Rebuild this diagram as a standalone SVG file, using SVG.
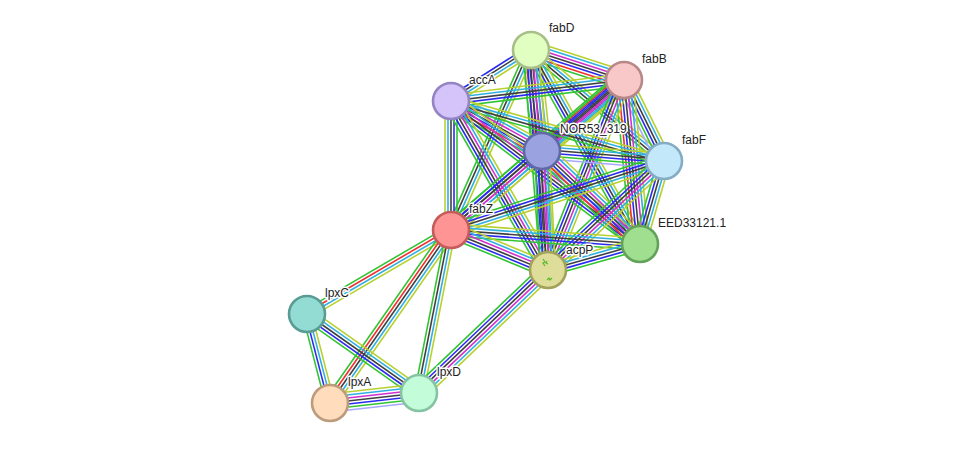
<svg xmlns="http://www.w3.org/2000/svg" width="975" height="449" viewBox="0 0 975 449">
<style>
.e path{fill:none;stroke-width:1.6}
.g{stroke:#33c433}.r{stroke:#f03030}.b{stroke:#2b2bf0}.k{stroke:#404040}.m{stroke:#d030d0}.c{stroke:#30b0e0}.y{stroke:#b8d030}.l{stroke:#a8a8ff}
.n circle{stroke-width:2.6}
.n text{font-family:"Liberation Sans",Arial,sans-serif;font-size:12px;fill:#222;stroke:#fff;stroke-width:3;stroke-linejoin:round;paint-order:stroke}
</style>
<rect width="975" height="449" fill="#fff"/>
<g id="connectors" class="e">
<g transform="translate(531 50) rotate(17.88)"><path class="y" d="M0-9H97.7"/><path class="c" d="M0-6H97.7"/><path class="m" d="M0-3H97.7"/><path class="k" d="M0 0H97.7"/><path class="b" d="M0 3H97.7"/><path class="r" d="M0 6H97.7"/><path class="g" d="M0 9H97.7"/></g>
<g transform="translate(531 50) rotate(147.48)"><path class="y" d="M0-4.5H94.9"/><path class="c" d="M0-1.5H94.9"/><path class="k" d="M0 1.5H94.9"/><path class="b" d="M0 4.5H94.9"/></g>
<g transform="translate(531 50) rotate(83.78)"><path class="y" d="M0-9H101.6"/><path class="c" d="M0-6H101.6"/><path class="m" d="M0-3H101.6"/><path class="k" d="M0 0H101.6"/><path class="b" d="M0 3H101.6"/><path class="r" d="M0 6H101.6"/><path class="g" d="M0 9H101.6"/></g>
<g transform="translate(531 50) rotate(39.85)"><path class="y" d="M0-4.5H173.2"/><path class="c" d="M0-1.5H173.2"/><path class="k" d="M0 1.5H173.2"/><path class="g" d="M0 4.5H173.2"/></g>
<g transform="translate(531 50) rotate(113.96)"><path class="y" d="M0-4.5H197"/><path class="c" d="M0-1.5H197"/><path class="k" d="M0 1.5H197"/><path class="g" d="M0 4.5H197"/></g>
<g transform="translate(531 50) rotate(60.67)"><path class="y" d="M0-6H222.5"/><path class="c" d="M0-3H222.5"/><path class="k" d="M0 0H222.5"/><path class="b" d="M0 3H222.5"/><path class="g" d="M0 6H222.5"/></g>
<g transform="translate(531 50) rotate(85.58)"><path class="y" d="M0-7.5H220.7"/><path class="c" d="M0-4.5H220.7"/><path class="m" d="M0-1.5H220.7"/><path class="k" d="M0 1.5H220.7"/><path class="b" d="M0 4.5H220.7"/><path class="g" d="M0 7.5H220.7"/></g>
<g transform="translate(451 101) rotate(-6.92)"><path class="y" d="M0-6H174.3"/><path class="c" d="M0-3H174.3"/><path class="k" d="M0 0H174.3"/><path class="b" d="M0 3H174.3"/><path class="g" d="M0 6H174.3"/></g>
<g transform="translate(624 80) rotate(139.11)"><path class="y" d="M0-9H108.5"/><path class="c" d="M0-6H108.5"/><path class="m" d="M0-3H108.5"/><path class="k" d="M0 0H108.5"/><path class="b" d="M0 3H108.5"/><path class="r" d="M0 6H108.5"/><path class="g" d="M0 9H108.5"/></g>
<g transform="translate(624 80) rotate(63.72)"><path class="y" d="M0-7.5H90.3"/><path class="c" d="M0-4.5H90.3"/><path class="k" d="M0-1.5H90.3"/><path class="b" d="M0 1.5H90.3"/><path class="g" d="M0 4.5H90.3"/><path class="l" d="M0 7.5H90.3"/></g>
<g transform="translate(624 80) rotate(139.07)"><path class="y" d="M0-7.5H229"/><path class="c" d="M0-4.5H229"/><path class="m" d="M0-1.5H229"/><path class="k" d="M0 1.5H229"/><path class="b" d="M0 4.5H229"/><path class="g" d="M0 7.5H229"/></g>
<g transform="translate(624 80) rotate(84.43)"><path class="y" d="M0-9H164.8"/><path class="c" d="M0-6H164.8"/><path class="m" d="M0-3H164.8"/><path class="k" d="M0 0H164.8"/><path class="b" d="M0 3H164.8"/><path class="r" d="M0 6H164.8"/><path class="g" d="M0 9H164.8"/></g>
<g transform="translate(624 80) rotate(111.8)"><path class="y" d="M0-7.5H204.6"/><path class="c" d="M0-4.5H204.6"/><path class="m" d="M0-1.5H204.6"/><path class="k" d="M0 1.5H204.6"/><path class="b" d="M0 4.5H204.6"/><path class="g" d="M0 7.5H204.6"/></g>
<g transform="translate(451 101) rotate(28.79)"><path class="y" d="M0-9H103.8"/><path class="c" d="M0-6H103.8"/><path class="m" d="M0-3H103.8"/><path class="k" d="M0 0H103.8"/><path class="b" d="M0 3H103.8"/><path class="r" d="M0 6H103.8"/><path class="g" d="M0 9H103.8"/></g>
<g transform="translate(451 101) rotate(15.73)"><path class="y" d="M0-4.5H221.3"/><path class="c" d="M0-1.5H221.3"/><path class="k" d="M0 1.5H221.3"/><path class="g" d="M0 4.5H221.3"/></g>
<g transform="translate(451 230) rotate(-90)"><path class="y" d="M0-6H129"/><path class="c" d="M0-3H129"/><path class="k" d="M0 0H129"/><path class="b" d="M0 3H129"/><path class="g" d="M0 6H129"/></g>
<g transform="translate(451 101) rotate(37.11)"><path class="y" d="M0-7.5H237"/><path class="c" d="M0-4.5H237"/><path class="m" d="M0-1.5H237"/><path class="k" d="M0 1.5H237"/><path class="b" d="M0 4.5H237"/><path class="g" d="M0 7.5H237"/></g>
<g transform="translate(451 101) rotate(60.14)"><path class="y" d="M0-7.5H194.9"/><path class="c" d="M0-4.5H194.9"/><path class="m" d="M0-1.5H194.9"/><path class="k" d="M0 1.5H194.9"/><path class="b" d="M0 4.5H194.9"/><path class="g" d="M0 7.5H194.9"/></g>
<g transform="translate(542 151) rotate(4.69)"><path class="y" d="M0-7.5H122.4"/><path class="c" d="M0-4.5H122.4"/><path class="k" d="M0-1.5H122.4"/><path class="b" d="M0 1.5H122.4"/><path class="g" d="M0 4.5H122.4"/><path class="l" d="M0 7.5H122.4"/></g>
<g transform="translate(542 151) rotate(139.04)"><path class="y" d="M0-7.5H120.5"/><path class="c" d="M0-4.5H120.5"/><path class="m" d="M0-1.5H120.5"/><path class="k" d="M0 1.5H120.5"/><path class="b" d="M0 4.5H120.5"/><path class="g" d="M0 7.5H120.5"/></g>
<g transform="translate(542 151) rotate(43.51)"><path class="y" d="M0-9H135.1"/><path class="c" d="M0-6H135.1"/><path class="m" d="M0-3H135.1"/><path class="k" d="M0 0H135.1"/><path class="b" d="M0 3H135.1"/><path class="r" d="M0 6H135.1"/><path class="g" d="M0 9H135.1"/></g>
<g transform="translate(542 151) rotate(87.11)"><path class="y" d="M0-7.5H119.2"/><path class="c" d="M0-4.5H119.2"/><path class="m" d="M0-1.5H119.2"/><path class="k" d="M0 1.5H119.2"/><path class="b" d="M0 4.5H119.2"/><path class="g" d="M0 7.5H119.2"/></g>
<g transform="translate(664 161) rotate(162.05)"><path class="y" d="M0-6H223.9"/><path class="c" d="M0-3H223.9"/><path class="k" d="M0 0H223.9"/><path class="b" d="M0 3H223.9"/><path class="g" d="M0 6H223.9"/></g>
<g transform="translate(664 161) rotate(106.13)"><path class="y" d="M0-6H86.4"/><path class="c" d="M0-3H86.4"/><path class="k" d="M0 0H86.4"/><path class="b" d="M0 3H86.4"/><path class="g" d="M0 6H86.4"/></g>
<g transform="translate(664 161) rotate(136.78)"><path class="y" d="M0-7.5H159.2"/><path class="c" d="M0-4.5H159.2"/><path class="m" d="M0-1.5H159.2"/><path class="k" d="M0 1.5H159.2"/><path class="b" d="M0 4.5H159.2"/><path class="g" d="M0 7.5H159.2"/></g>
<g transform="translate(451 230) rotate(4.24)"><path class="y" d="M0-6H189.5"/><path class="c" d="M0-3H189.5"/><path class="k" d="M0 0H189.5"/><path class="b" d="M0 3H189.5"/><path class="g" d="M0 6H189.5"/></g>
<g transform="translate(451 230) rotate(22.41)"><path class="y" d="M0-7.5H104.9"/><path class="c" d="M0-4.5H104.9"/><path class="m" d="M0-1.5H104.9"/><path class="k" d="M0 1.5H104.9"/><path class="b" d="M0 4.5H104.9"/><path class="g" d="M0 7.5H104.9"/></g>
<g transform="translate(548 270) rotate(-15.78)"><path class="y" d="M0-6H95.6"/><path class="c" d="M0-3H95.6"/><path class="k" d="M0 0H95.6"/><path class="b" d="M0 3H95.6"/><path class="g" d="M0 6H95.6"/></g>
<g transform="translate(451 230) rotate(149.74)"><path class="y" d="M0-4.5H166.7"/><path class="c" d="M0-1.5H166.7"/><path class="r" d="M0 1.5H166.7"/><path class="g" d="M0 4.5H166.7"/></g>
<g transform="translate(451 230) rotate(124.97)"><path class="y" d="M0-6H211.1"/><path class="c" d="M0-3H211.1"/><path class="k" d="M0 0H211.1"/><path class="r" d="M0 3H211.1"/><path class="g" d="M0 6H211.1"/></g>
<g transform="translate(451 230) rotate(101.11)"><path class="y" d="M0-4.5H166.1"/><path class="c" d="M0-1.5H166.1"/><path class="k" d="M0 1.5H166.1"/><path class="g" d="M0 4.5H166.1"/></g>
<g transform="translate(307 314) rotate(75.51)"><path class="y" d="M0-4.5H91.9"/><path class="c" d="M0-1.5H91.9"/><path class="b" d="M0 1.5H91.9"/><path class="g" d="M0 4.5H91.9"/></g>
<g transform="translate(307 314) rotate(35.2)"><path class="y" d="M0-6H137.1"/><path class="c" d="M0-3H137.1"/><path class="k" d="M0 0H137.1"/><path class="b" d="M0 3H137.1"/><path class="g" d="M0 6H137.1"/></g>
<g transform="translate(330 403) rotate(-6.41)"><path class="y" d="M0-9H89.6"/><path class="c" d="M0-6H89.6"/><path class="m" d="M0-3H89.6"/><path class="k" d="M0 0H89.6"/><path class="b" d="M0 3H89.6"/><path class="g" d="M0 6H89.6"/><path class="l" d="M0 9H89.6"/></g>
<g transform="translate(548 270) rotate(136.36)"><path class="y" d="M0-7.5H178.2"/><path class="c" d="M0-4.5H178.2"/><path class="m" d="M0-1.5H178.2"/><path class="k" d="M0 1.5H178.2"/><path class="b" d="M0 4.5H178.2"/><path class="g" d="M0 7.5H178.2"/></g>
</g>
<g id="fabD" class="n"><circle cx="531" cy="50" r="18" fill="#e0ffc0" stroke="#a8c088"/><text x="549" y="32">fabD</text></g>
<g id="fabB" class="n"><circle cx="624" cy="80" r="18" fill="#f8c8c8" stroke="#b88888"/><text x="642" y="63">fabB</text></g>
<g id="accA" class="n"><circle cx="451" cy="101" r="18" fill="#d4c4fa" stroke="#9484c4"/><text x="469" y="84">accA</text></g>
<g id="NOR53_319" class="n"><circle cx="542" cy="151" r="18" fill="#9aa2e0" stroke="#6068a8"/><text x="560" y="133">NOR53_319</text></g>
<g id="fabF" class="n"><circle cx="664" cy="161" r="18" fill="#c2e8fa" stroke="#84acc4"/><text x="682" y="144">fabF</text></g>
<g id="fabZ" class="n"><circle cx="451" cy="230" r="18" fill="#ff9494" stroke="#c45c5c"/><text x="469" y="213">fabZ</text></g>
<g id="EED33121.1" class="n"><circle cx="640" cy="244" r="18" fill="#a0de90" stroke="#62a25a"/><text x="658" y="227">EED33121.1</text></g>
<g id="acpP" class="n"><circle cx="548" cy="270" r="18" fill="#dede9a" stroke="#a2a25c"/><path d="M543 259l2 3-2 1 2 3M547 261l-1 2 2 1M547 280l2-2 1 2 2-2" fill="none" stroke="#5cb82c" stroke-width="1.2"/><text x="566" y="254">acpP</text></g>
<g id="lpxC" class="n"><circle cx="307" cy="314" r="18" fill="#92dcd4" stroke="#5a9c94"/><text x="325" y="297">lpxC</text></g>
<g id="lpxA" class="n"><circle cx="330" cy="403" r="18" fill="#ffdcbc" stroke="#bc9c7c"/><text x="348" y="386">lpxA</text></g>
<g id="lpxD" class="n"><circle cx="419" cy="393" r="18" fill="#c2fcd8" stroke="#84c4a2"/><text x="437" y="376">lpxD</text></g>
</svg>
